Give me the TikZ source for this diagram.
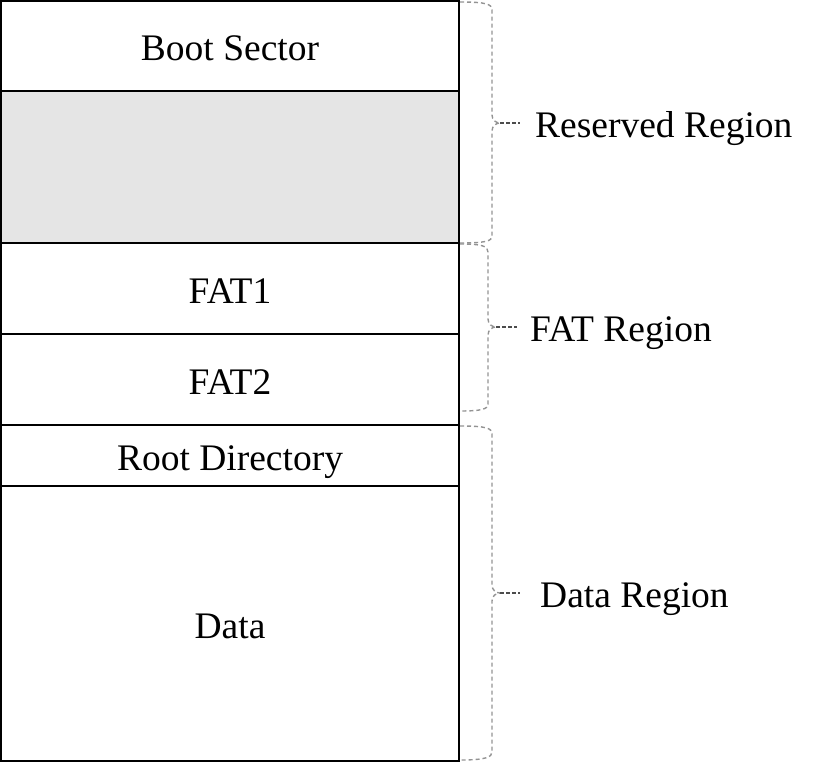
\documentclass[tikz,border=0pt]{standalone}
\usepackage{fontspec}
\setmainfont{Liberation Serif}
\usetikzlibrary{positioning}

\tikzset{
	region/.style={draw, line width=2.3pt, minimum width=458pt, inner sep=0pt, outer sep=0pt,
		text height=29pt, text depth=0pt, font=\fontsize{37.5}{45}\selectfont},
	regionlabel/.style={anchor=west, inner sep=0pt, text height=29pt, text depth=0pt,
		font=\fontsize{37.5}{45}\selectfont},
	bracepath/.style={draw=gray!85, line width=1.4pt, dash pattern=on 4pt off 3pt},
	tipline/.style={draw=black!70, line width=1.4pt, dash pattern=on 4pt off 2pt},
}

\begin{document}
\begin{tikzpicture}[x=1pt, y=-1pt]
	\useasboundingbox (0,0) rectangle (818,763);
	%% disk layout
	\node[region, minimum height=90pt, anchor=north west] (boot) at (1,1) {Boot Sector};
	\node[region, minimum height=152pt, fill=black!10, below=0pt of boot] (resv) {};
	\node[region, minimum height=91pt, below=0pt of resv] (fat1) {FAT1};
	\node[region, minimum height=91pt, below=0pt of fat1] (fat2) {FAT2};
	\node[region, minimum height=61pt, below=0pt of fat2] (root) {Root Directory};
	\node[region, minimum height=275pt, below=0pt of root] (data) {Data};
	% braces
	\coordinate (rtip) at (500,123);
	\coordinate (ftip) at (496,327);
	\coordinate (dtip) at (500,593);
	\draw[bracepath] (460,2) .. controls (486,2) and (492,4) .. (492,10) -- (492,115)
		.. controls (492,120) and (496,123) .. (rtip) .. controls (496,123) and (492,126) .. (492,131)
		-- (492,236) .. controls (492,241) and (486,243) .. (460,243);
	\draw[bracepath] (460,244) .. controls (482,244) and (488,246) .. (488,252) -- (488,319)
		.. controls (488,324) and (492,327) .. (ftip) .. controls (492,327) and (488,330) .. (488,335)
		-- (488,404) .. controls (488,409) and (482,411) .. (460,411);
	\draw[bracepath] (460,426) .. controls (486,426) and (492,428) .. (492,434) -- (492,585)
		.. controls (492,590) and (496,593) .. (dtip) .. controls (496,593) and (492,596) .. (492,601)
		-- (492,752) .. controls (492,757) and (486,760) .. (460,760);
	% labels
	\node[regionlabel, right=35pt of rtip] (rlabel) {Reserved Region};
	\node[regionlabel, right=34pt of ftip] (flabel) {FAT Region};
	\node[regionlabel, right=40pt of dtip] (dlabel) {Data Region};
	\draw[tipline] (rtip) -- ++(20,0) coordinate (rend);
	\draw[tipline] (ftip) -- ++(21,0) coordinate (fend);
	\draw[tipline] (dtip) -- ++(20,0) coordinate (dend);
\end{tikzpicture}
\end{document}
